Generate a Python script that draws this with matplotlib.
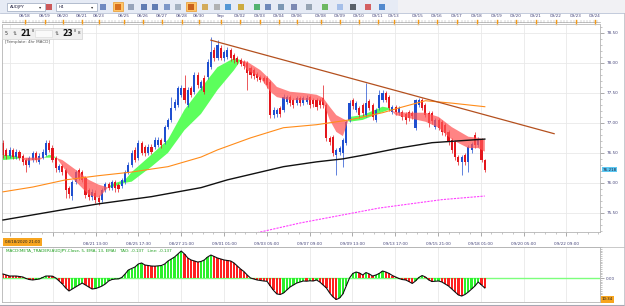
import matplotlib
matplotlib.use("Agg")
import matplotlib.pyplot as plt
import matplotlib.patches as mpatches
import matplotlib.transforms as mtransforms
from matplotlib.ticker import MultipleLocator, FixedLocator
import numpy as np

# ---------------- data ----------------
opens = [76.67, 76.55, 76.45, 76.55, 76.43, 76.52, 76.45, 76.38, 76.30, 76.38,
         76.50, 76.35, 76.42, 76.47, 76.67, 76.58, 76.42, 76.22, 76.28, 76.22,
         75.92, 75.78, 76.02, 76.22, 76.18, 76.08, 75.88, 75.77, 75.83, 75.75,
         75.72, 75.88, 75.98, 75.92, 76.02, 75.97, 75.95, 76.02, 76.18, 76.30,
         76.55, 76.42, 76.67, 76.60, 76.50, 76.60, 76.60, 76.63, 76.72, 76.68,
         76.93, 77.05, 77.25, 77.30, 77.47, 77.58, 77.30, 77.58, 77.52, 77.80,
         77.58, 77.75, 77.77, 77.93, 78.22, 78.08, 78.25, 78.08, 78.10, 78.22,
         78.13, 78.08, 78.05, 78.02, 78.00, 77.92, 77.88, 77.82, 77.77, 77.75,
         77.75, 77.68, 77.13, 77.15, 77.25, 77.22, 77.35, 77.43, 77.38, 77.33,
         77.42, 77.33, 77.35, 77.43, 77.38, 77.38, 77.38, 77.42, 77.30, 76.75,
         76.77, 76.47, 76.52, 76.50, 76.67, 77.05, 77.38, 77.22, 77.25, 77.30,
         77.13, 77.37, 77.30, 77.05, 77.25, 77.38, 77.50, 77.43, 77.18, 77.27,
         77.17, 77.18, 77.15, 77.18, 77.17, 76.92, 77.30, 77.38, 77.30, 77.17,
         77.17, 76.93, 77.05, 77.02, 76.97, 76.85, 76.72, 76.68, 76.43, 76.35,
         76.47, 76.35, 76.55, 76.80, 76.63, 76.72, 76.38]
closes = [76.47, 76.45, 76.55, 76.43, 76.52, 76.42, 76.35, 76.30, 76.42, 76.50,
          76.38, 76.45, 76.52, 76.67, 76.55, 76.38, 76.25, 76.28, 76.18, 75.88,
          75.82, 76.02, 76.18, 76.08, 76.05, 75.80, 75.77, 75.85, 75.72, 75.68,
          75.88, 75.98, 75.92, 76.02, 75.92, 75.90, 76.05, 76.18, 76.30, 76.50,
          76.38, 76.67, 76.50, 76.50, 76.60, 76.52, 76.72, 76.72, 76.63, 76.93,
          77.05, 77.25, 77.35, 77.58, 77.58, 77.38, 77.55, 77.47, 77.80, 77.63,
          77.68, 77.52, 78.02, 78.18, 78.08, 78.30, 78.08, 78.18, 78.22, 78.08,
          78.05, 78.02, 77.98, 77.95, 77.83, 77.80, 77.78, 77.75, 77.72, 77.70,
          77.63, 77.13, 77.22, 77.22, 77.15, 77.43, 77.43, 77.33, 77.30, 77.42,
          77.33, 77.42, 77.42, 77.30, 77.32, 77.27, 77.30, 77.30, 76.75, 76.68,
          76.50, 76.55, 76.58, 76.72, 77.02, 77.33, 77.28, 77.33, 77.13, 77.17,
          77.33, 77.25, 77.10, 77.22, 77.47, 77.50, 77.38, 77.25, 77.27, 77.18,
          77.25, 77.10, 77.05, 77.08, 77.12, 77.38, 77.38, 77.25, 77.13, 77.00,
          77.03, 77.05, 76.92, 76.85, 76.83, 76.68, 76.55, 76.43, 76.35, 76.43,
          76.35, 76.60, 76.65, 76.63, 76.72, 76.38, 76.22]
highs = [76.72, 76.58, 76.60, 76.58, 76.56, 76.55, 76.48, 76.42, 76.45, 76.53,
         76.53, 76.50, 76.56, 76.72, 76.72, 76.63, 76.45, 76.32, 76.32, 76.25,
         75.95, 76.05, 76.22, 76.25, 76.22, 76.12, 75.92, 75.90, 75.88, 75.80,
         75.92, 76.02, 76.02, 76.05, 76.05, 76.00, 76.08, 76.22, 76.35, 76.55,
         76.60, 76.72, 76.70, 76.63, 76.65, 76.65, 76.77, 76.77, 76.75, 76.97,
         77.08, 77.43, 77.40, 77.62, 77.63, 77.80, 77.60, 77.62, 77.85, 77.85,
         77.72, 77.80, 78.07, 78.43, 78.27, 78.38, 78.30, 78.22, 78.27, 78.25,
         78.17, 78.12, 78.08, 78.05, 78.03, 77.95, 77.92, 77.85, 77.80, 77.78,
         77.78, 77.72, 77.27, 77.25, 77.28, 77.48, 77.47, 77.47, 77.42, 77.45,
         77.45, 77.45, 77.47, 77.47, 77.42, 77.42, 77.42, 77.63, 77.33, 76.78,
         76.80, 76.58, 76.62, 76.75, 77.05, 77.38, 77.42, 77.37, 77.28, 77.33,
         77.67, 77.40, 77.33, 77.25, 77.55, 77.55, 77.53, 77.47, 77.30, 77.30,
         77.28, 77.22, 77.18, 77.22, 77.20, 77.40, 77.42, 77.42, 77.33, 77.20,
         77.20, 77.08, 77.08, 77.05, 77.00, 76.88, 76.75, 76.72, 76.47, 76.47,
         76.50, 76.63, 76.68, 76.85, 76.77, 76.75, 76.40]
lows = [76.42, 76.40, 76.42, 76.40, 76.40, 76.38, 76.30, 76.18, 76.27, 76.35,
        76.35, 76.32, 76.40, 76.45, 76.52, 76.35, 76.18, 76.18, 76.13, 75.75,
        75.75, 75.72, 75.98, 76.05, 76.02, 75.75, 75.72, 75.72, 75.67, 75.63,
        75.68, 75.85, 75.88, 75.88, 75.85, 75.85, 75.92, 75.98, 76.15, 76.27,
        76.35, 76.38, 76.47, 76.45, 76.47, 76.48, 76.57, 76.60, 76.58, 76.65,
        76.90, 77.02, 77.22, 77.27, 77.43, 77.33, 77.27, 77.43, 77.48, 77.58,
        77.55, 77.48, 77.73, 77.90, 78.03, 78.05, 78.05, 78.03, 78.07, 78.03,
        78.00, 77.98, 77.95, 77.90, 77.55, 77.75, 77.73, 77.70, 77.68, 77.67,
        77.58, 77.08, 77.08, 77.10, 77.10, 77.18, 77.32, 77.28, 77.25, 77.30,
        77.28, 77.30, 77.32, 77.25, 77.27, 77.22, 77.25, 77.25, 76.70, 76.63,
        76.45, 76.13, 76.47, 76.27, 76.63, 77.02, 77.23, 77.18, 77.08, 77.12,
        77.10, 77.22, 77.05, 77.02, 77.22, 77.35, 77.35, 77.20, 77.15, 77.13,
        77.13, 77.05, 76.98, 77.03, 77.07, 76.88, 77.27, 77.22, 77.10, 76.93,
        76.98, 76.90, 76.88, 76.80, 76.78, 76.63, 76.50, 76.38, 76.30, 76.13,
        76.30, 76.18, 76.50, 76.58, 76.60, 76.35, 76.18]

# fast / slow ribbon edges (green when fast above slow)
band_idx = [0, 4, 7, 11, 14, 16, 18, 20, 23, 26, 29, 32, 33, 37, 39, 45, 50, 55,
            60, 65, 70, 72, 74, 78, 81, 83, 87, 91, 95, 97, 99, 101, 103, 105,
            109, 115, 117, 119, 123, 128, 132, 136, 141, 144, 146]
band_fast = [76.47, 76.45, 76.37, 76.38, 76.47, 76.43, 76.28, 76.13, 75.97, 75.80,
             75.75, 75.93, 75.98, 76.05, 76.18, 76.47, 76.72, 77.22, 77.58, 77.93,
             78.08, 78.05, 77.88, 77.75, 77.52, 77.43, 77.38, 77.38, 77.38, 77.35,
             77.05, 76.85, 76.78, 77.10, 77.13, 77.27, 77.25, 77.13, 77.08, 77.02,
             76.92, 76.72, 76.58, 76.58, 76.52]
band_slow = [76.38, 76.40, 76.42, 76.42, 76.42, 76.42, 76.38, 76.30, 76.18, 76.05,
             75.97, 75.92, 75.93, 76.00, 76.02, 76.27, 76.50, 76.88, 77.15, 77.55,
             77.88, 78.04, 78.02, 77.88, 77.72, 77.60, 77.52, 77.50, 77.47, 77.42,
             77.27, 77.13, 77.07, 77.02, 77.05, 77.18, 77.22, 77.18, 77.17, 77.17,
             77.10, 76.93, 76.77, 76.75, 76.72]

orange_idx = [0, 9, 19, 29, 39, 45, 50, 55, 60, 65, 75, 85, 95, 105, 115, 120, 128, 136, 146]
orange_ma = [75.85, 75.93, 76.05, 76.12, 76.18, 76.23, 76.27, 76.35, 76.43, 76.55,
             76.75, 76.92, 76.97, 77.05, 77.17, 77.25, 77.37, 77.33, 77.27]
black_idx = [0, 18, 29, 45, 60, 68, 85, 95, 103, 110, 120, 130, 146]
black_ma = [75.38, 75.55, 75.65, 75.77, 75.92, 76.05, 76.27, 76.35, 76.40, 76.47,
            76.58, 76.67, 76.73]
pink_idx = [74, 90, 114, 133, 146]
pink_ma = [75.13, 75.33, 75.58, 75.72, 75.78]
trend_idx = [63, 167]
trend_price = [78.38, 76.82]

macd = [0.055, 0.041, 0.027, 0.027, 0.027, 0.021, 0.014, -0.007, -0.021, -0.027,
        -0.021, -0.014, 0.007, 0.027, 0.027, 0.025, 0.000, -0.041, -0.082, -0.137,
        -0.178, -0.151, -0.123, -0.096, -0.069, -0.096, -0.123, -0.151, -0.144, -0.130,
        -0.110, -0.082, -0.041, -0.021, -0.014, -0.012, 0.007, 0.055, 0.110, 0.130,
        0.151, 0.192, 0.206, 0.178, 0.171, 0.164, 0.162, 0.166, 0.171, 0.192,
        0.233, 0.260, 0.288, 0.329, 0.370, 0.329, 0.274, 0.247, 0.233, 0.219,
        0.226, 0.247, 0.288, 0.315, 0.295, 0.274, 0.260, 0.247, 0.240, 0.233,
        0.206, 0.164, 0.123, 0.089, 0.041, 0.000, -0.014, -0.027, -0.034, -0.041,
        -0.045, -0.110, -0.171, -0.219, -0.226, -0.206, -0.164, -0.123, -0.096, -0.069,
        -0.055, -0.041, -0.044, -0.038, -0.041, -0.027, -0.055, -0.096, -0.137, -0.206,
        -0.260, -0.295, -0.274, -0.219, -0.110, 0.000, 0.062, 0.082, 0.069, 0.041,
        0.075, 0.055, 0.027, 0.041, 0.062, 0.096, 0.082, 0.062, 0.034, 0.014,
        -0.007, -0.021, -0.027, -0.048, -0.075, -0.041, 0.007, 0.034, 0.014, -0.027,
        -0.048, -0.045, -0.041, -0.055, -0.082, -0.110, -0.151, -0.192, -0.233, -0.247,
        -0.226, -0.192, -0.151, -0.110, -0.055, -0.096, -0.137]

last_price = 76.218
price_ticks = [75.5, 76.0, 76.5, 77.0, 77.5, 78.0, 78.5]
top_dates = ["08/18", "08/19", "08/20", "08/21", "08/23", "08/25", "08/26", "08/27",
             "08/28", "08/30", "Sep", "09/02", "09/03", "09/04", "09/06", "09/08",
             "09/09", "09/10", "09/11", "09/13", "09/15", "09/16", "09/17", "09/18",
             "09/19", "09/20", "09/21", "09/22", "09/23", "09/24"]
bottom_times = ["", "", "08/21 13:00", "08/25 17:30", "08/27 21:00", "09/01 01:00",
                "09/03 05:00", "09/07 09:00", "09/09 13:00", "09/13 17:00",
                "09/15 21:00", "09/18 01:00", "09/20 05:00", "09/22 09:00"]

# ---------------- layout ----------------
W, H = 625, 306
top_date_px = [25, 45, 63, 82, 99, 124, 143, 162, 182, 199, 221, 240, 260, 279, 297,
               321, 340, 359, 378, 394, 418, 437, 457, 477, 497, 516, 536, 556, 576, 595]
grid_idx = 2.1 + 12.97 * np.arange(14)
TXT = "#44447a"
FS = 3.0

fig = plt.figure(figsize=(W / 100, H / 100), dpi=100)
fig.patch.set_facecolor("white")


def px_rect(x0, y0, x1, y1):
    return [x0 / W, 1 - y1 / H, (x1 - x0) / W, (y1 - y0) / H]


idx = np.arange(len(closes))
o = np.array(opens)
c = np.array(closes)
up = c >= o

# main price panel
ax = fig.add_axes(px_rect(2, 24, 600, 232))
ax.set_xlim(-0.3, 180.9)
ax.set_ylim(75.18, 78.65)
ax.set_xticks(grid_idx)
ax.set_xticklabels(bottom_times)
ax.xaxis.set_minor_locator(FixedLocator(np.arange(grid_idx[0], 181, 12.97 / 4)))
ax.yaxis.tick_right()
ax.set_yticks(price_ticks)
ax.set_yticklabels([f"{v:.2f}" for v in price_ticks])
ax.yaxis.set_minor_locator(MultipleLocator(0.1))
ax.tick_params(axis="x", which="major", length=3, width=0.5, color="#888888",
               labelsize=FS, labelcolor=TXT, pad=4)
ax.tick_params(axis="x", which="minor", length=1.5, width=0.4, color="#999999")
ax.tick_params(axis="y", which="major", length=3, width=0.5, color="#888888",
               labelsize=FS, labelcolor=TXT, pad=1.5)
ax.tick_params(axis="y", which="minor", length=1.3, width=0.4, color="#999999")
ax.grid(True, which="major", color="#e9e9e9", lw=0.6)
ax.set_axisbelow(True)
for s in ax.spines.values():
    s.set_color("#b4b4b4")
    s.set_linewidth(0.6)

# ribbon below (green) / above (red) the candles
bf = np.array(band_fast)
bs = np.array(band_slow)
ax.fill_between(band_idx, bf, bs, where=bf >= bs, interpolate=True,
                color="#5cff5c", lw=0, zorder=1.5)

blue, red = "#1f4fd0", "#e3161c"
cols = np.where(up, blue, red)
ax.vlines(idx, lows, highs, colors=cols, lw=0.5, zorder=2)
body = np.where(np.abs(c - o) < 0.008, 0.008, c - o)
ax.bar(idx, body, bottom=o, width=0.62, color=cols, lw=0, zorder=2.2)

ax.fill_between(band_idx, bf, bs, where=bf < bs, interpolate=True,
                color="#ff5555", alpha=0.72, lw=0, zorder=3)

ax.plot(orange_idx, orange_ma, color="#ff8c1a", lw=0.8, zorder=4)
ax.plot(black_idx, black_ma, color="#111111", lw=1.0, zorder=4)
ax.plot(pink_idx, pink_ma, color="#ff40ff", lw=0.8, ls=(0, (2, 1)), zorder=4)
ax.plot(trend_idx, trend_price, color="#b4501e", lw=0.9, zorder=4)

tr = mtransforms.blended_transform_factory(ax.transAxes, ax.transData)
ax.text(1.004, last_price, f"{last_price:.3f}", transform=tr, fontsize=FS,
        color="#202040", va="center", ha="left", zorder=6,
        bbox=dict(boxstyle="square,pad=0.15", fc="#5cc8f2", ec="none"))

# MACD panel
am = fig.add_axes(px_rect(2, 247, 600, 302))
am.set_xlim(-0.3, 180.9)
am.set_ylim(-0.329, 0.425)
m = np.array(macd)
rising = np.concatenate([[False], m[1:] > m[:-1]])
am.axhline(0, color="#7dff7d", lw=1.0, zorder=1)
am.bar(idx, m, width=0.68, color=np.where(rising, "#2cf02c", "#ff2020"), lw=0, zorder=2)
am.plot(idx, m, color="#111111", lw=0.8, zorder=3)
am.set_xticks(grid_idx)
am.set_xticklabels([])
am.tick_params(axis="x", length=0)
am.grid(True, axis="x", color="#e9e9e9", lw=0.6)
am.set_axisbelow(True)
am.yaxis.tick_right()
am.set_yticks([0])
am.set_yticklabels(["0.00"])
am.yaxis.set_minor_locator(MultipleLocator(0.025))
am.tick_params(axis="y", which="major", length=3, width=0.5, color="#888888",
               labelsize=FS, labelcolor=TXT, pad=1.5)
am.tick_params(axis="y", which="minor", length=1.3, width=0.4, color="#999999")
for s in am.spines.values():
    s.set_color("#b4b4b4")
    s.set_linewidth(0.6)
am.text(0.006, 0.93, "MACD(META_TRADER(AUDJPY,Close, 5, EMA, 13, EMA)   TAO: -0.137   Line: -0.137",
        transform=am.transAxes, fontsize=FS, color="#1f9f1f", va="center", ha="left")

# overlay for window chrome (pixel coordinates)
ov = fig.add_axes([0, 0, 1, 1], zorder=10)
ov.set_xlim(0, W)
ov.set_ylim(H, 0)
ov.axis("off")
ov.patch.set_alpha(0)

ov.add_patch(mpatches.Rectangle((0, 0), 398, 12.5, fc="#e6ebf5", ec="none"))
ov.add_patch(mpatches.Rectangle((398, 0), W - 398, 12.5, fc="#f1f1f4", ec="none"))
ov.plot([0, W], [12.5, 12.5], color="#b9c3d6", lw=0.6)
for x0, x1, lab in [(7, 45, "AUDJPY"), (56, 97, "H4")]:
    ov.add_patch(mpatches.Rectangle((x0, 2.5), x1 - x0, 8, fc="white", ec="#9aa6bd", lw=0.5))
    ov.text(x0 + 3, 6.6, lab, fontsize=FS, color="#202040", va="center")
    ov.text(x1 - 5, 6.6, "▾", fontsize=3.2, color="#333333", va="center", ha="center")
for hx in (118, 191):
    ov.add_patch(mpatches.Rectangle((hx - 5, 2), 10, 9, fc="#ffc56a", ec="#e89a2c", lw=0.5))
icons = [(49, "#c84040"), (103, "#5a78b8"), (118, "#d06010"), (131, "#8a98b0"),
         (144, "#4a6aa8"), (155, "#4a6aa8"), (167, "#6a88c0"), (178, "#9aa8b8"),
         (191, "#c05010"), (205, "#d0a040"), (217, "#a8a8a8"), (228, "#3a88d0"),
         (241, "#c8a020"), (257, "#38a858"), (268, "#5a78b0"), (281, "#6a88a8"),
         (294, "#6a78a8"), (309, "#8898a8"), (325, "#58b048"), (340, "#9ab8e8"),
         (353, "#404850"), (368, "#d04848"), (382, "#3878c8")]
for ix, col in icons:
    ov.add_patch(mpatches.Rectangle((ix - 3, 3.5), 6, 6, fc=col, ec="none", alpha=0.85))

# top date ruler
ov.plot([2, 600], [21.5, 21.5], color="#a8a8a8", lw=0.5)
ov.vlines(np.arange(3, 600, 3.3), 20.3, 22.5, color="#a0a0a0", lw=0.3)
for px, lab in zip(top_date_px, top_dates):
    ov.text(px, 16.3, lab, fontsize=FS, color=TXT, ha="center", va="center")
    ov.plot([px, px], [19.5, 23.5], color="#f59a16", lw=1.0)
ov.plot([2, 600], [24, 24], color="#c8c8c8", lw=0.5)

# indicator spin box and template label
ov.add_patch(mpatches.Rectangle((2, 27.5), 80, 11.5, fc="#f0f0f0", ec="#d2d2d2", lw=0.5))
ov.text(4.5, 33.5, "5", fontsize=3.4, color="#333333", va="center")
ov.text(13, 33.5, "⇅", fontsize=3.4, color="#555555", va="center")
ov.text(20, 33.3, "21", fontsize=5.6, fontweight="bold", color="#111111", va="center")
ov.text(31.5, 31.5, "8", fontsize=2.4, color="#333333", va="center")
ov.add_patch(mpatches.Rectangle((35, 29.5), 17, 7.5, fc="#fafafa", ec="#d8d8d8", lw=0.4))
ov.text(55, 33.5, "⇅", fontsize=3.4, color="#555555", va="center")
ov.text(62, 33.3, "23", fontsize=5.6, fontweight="bold", color="#111111", va="center")
ov.text(73.5, 31.5, "8", fontsize=2.4, color="#333333", va="center")
ov.text(77.5, 33.5, "8", fontsize=3.0, color="#333333", va="center")
ov.text(5, 41.5, "[Template: 4hr MACD]", fontsize=FS, color="#555555", va="center")

# bottom time stamp boxes
ov.add_patch(mpatches.Rectangle((3, 237.5), 39, 8.5, fc="#f7a51f", ec="none"))
ov.text(22.5, 241.8, "08/18/2020 21:00", fontsize=2.8, color="#202020", ha="center", va="center")
ov.plot([0, W], [246.5, 246.5], color="#b4b4b4", lw=0.5)
ov.add_patch(mpatches.Rectangle((601, 296), 13, 6.5, fc="#f7a51f", ec="none"))
ov.text(607.5, 299.3, "10:34", fontsize=2.8, color="#202020", ha="center", va="center")
ov.plot([0, W], [304.5, 304.5], color="#a8a8b4", lw=0.8)
ov.plot([623.5, 623.5], [13, 305], color="#c0c0c8", lw=0.6)

fig.savefig("out.png", dpi=100, facecolor="white")
